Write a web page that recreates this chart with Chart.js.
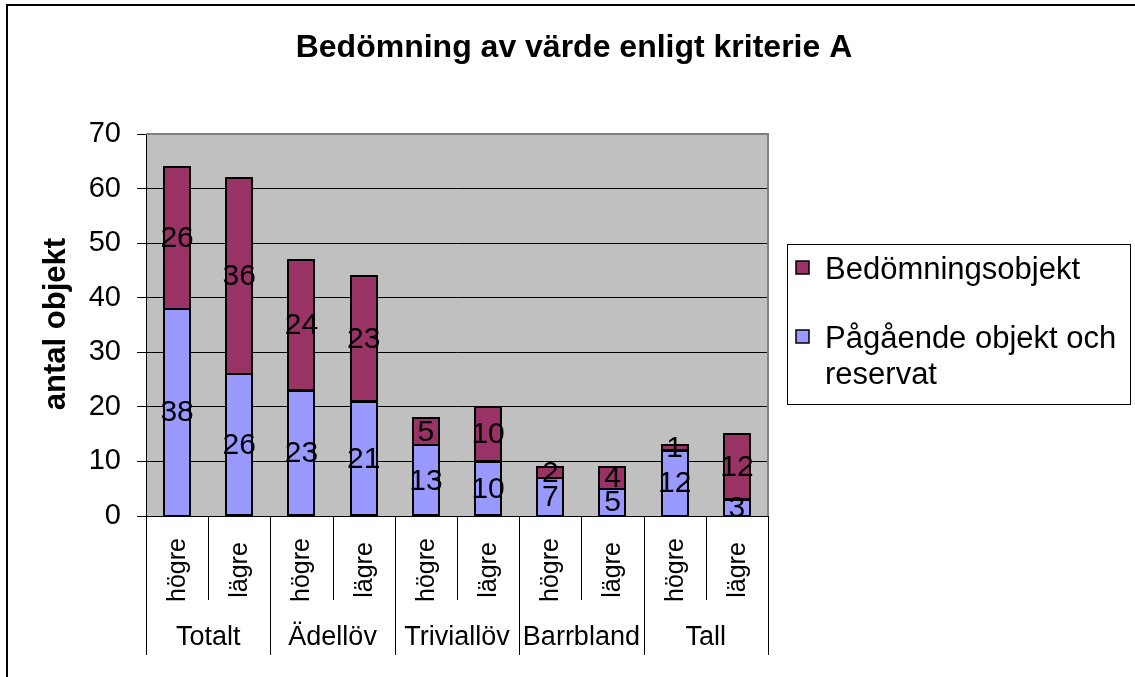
<!DOCTYPE html>
<html>
<head>
<meta charset="utf-8">
<script src="https://cdn.jsdelivr.net/npm/chart.js@4.4.1/dist/chart.umd.min.js"></script>
<style>
  html, body { margin: 0; padding: 0; background: #fff; }
  #wrap { width: 1135px; height: 677px; position: relative; }
</style>
</head>
<body>
<div id="wrap"><canvas id="chart" width="1135" height="677"></canvas></div>
<script>
const chartTitle = 'Bedömning av värde enligt kriterie A';
const yTitle = 'antal objekt';
const subLabels = ['högre', 'lägre', 'högre', 'lägre', 'högre', 'lägre', 'högre', 'lägre', 'högre', 'lägre'];
const groupLabels = ['Totalt', 'Ädellöv', 'Triviallöv', 'Barrbland', 'Tall'];
const pagaende = [38, 26, 23, 21, 13, 10, 7, 5, 12, 3];
const bedomning = [26, 36, 24, 23, 5, 10, 2, 4, 1, 12];
const seriesNames = ['Pågående objekt och reservat', 'Bedömningsobjekt'];
const yMax = 70;
const yStep = 10;

const FONT = '"Liberation Sans", Arial, sans-serif';

const excelLook = {
    id: 'excelLook',
    beforeDraw(chart) {
        const ctx = chart.ctx;
        const a = chart.chartArea;
        ctx.save();
        ctx.fillStyle = '#fff';
        ctx.fillRect(0, 0, chart.width, chart.height);
        // outer frame
        ctx.strokeStyle = '#000';
        ctx.lineWidth = 2;
        ctx.beginPath();
        ctx.moveTo(7, chart.height + 2);
        ctx.lineTo(7, 5);
        ctx.lineTo(chart.width + 2, 5);
        ctx.stroke();
        // plot background
        ctx.fillStyle = '#C0C0C0';
        ctx.fillRect(a.left, a.top, a.right - a.left, a.bottom - a.top);
        ctx.restore();
    },
    afterDatasetsDraw(chart) {
        const ctx = chart.ctx;
        const a = chart.chartArea;
        ctx.save();
        // plot border top / right
        ctx.strokeStyle = '#808080';
        ctx.lineWidth = 2;
        ctx.beginPath();
        ctx.moveTo(a.left, a.top);
        ctx.lineTo(a.right, a.top);
        ctx.lineTo(a.right, a.bottom);
        ctx.stroke();

        // bar outlines, centred on the segment edges like Excel
        ctx.strokeStyle = '#000';
        ctx.lineWidth = 2;
        chart.data.datasets.forEach((ds, di) => {
            chart.getDatasetMeta(di).data.forEach(bar => {
                const w = bar.width;
                ctx.strokeRect(Math.round(bar.x - w / 2), Math.round(bar.y), Math.round(w), Math.round(bar.base - bar.y));
            });
        });

        // value labels
        ctx.fillStyle = '#000';
        ctx.font = '30px ' + FONT;
        ctx.textAlign = 'center';
        ctx.textBaseline = 'middle';
        chart.data.datasets.forEach((ds, di) => {
            chart.getDatasetMeta(di).data.forEach((bar, i) => {
                const v = ds.data[i];
                ctx.fillText(String(v), bar.x, (bar.y + bar.base) / 2 + 1);
            });
        });

        // category axis: separators and labels
        const xs = chart.scales.x;
        const n = subLabels.length;
        const step = (a.right - a.left) / n;
        ctx.lineWidth = 1;
        for (let k = 0; k <= n; k++) {
            const x = Math.round(a.left + k * step) + 0.5;
            ctx.beginPath();
            ctx.moveTo(x, a.bottom);
            ctx.lineTo(x, k % 2 === 0 ? 655 : 600);
            ctx.stroke();
        }
        ctx.font = '25px ' + FONT;
        subLabels.forEach((lab, i) => {
            const cx = xs.getPixelForValue(i);
            ctx.save();
            ctx.translate(cx + 1, 570);
            ctx.rotate(-Math.PI / 2);
            ctx.textAlign = 'center';
            ctx.textBaseline = 'middle';
            ctx.fillText(lab, 0, 0);
            ctx.restore();
        });
        ctx.font = '27px ' + FONT;
        groupLabels.forEach((g, j) => {
            const cx = (xs.getPixelForValue(2 * j) + xs.getPixelForValue(2 * j + 1)) / 2;
            ctx.fillText(g, cx, 638);
        });

        // title
        ctx.font = 'bold 32px ' + FONT;
        ctx.fillText(chartTitle, 574, 48);

        // y axis title
        ctx.save();
        ctx.translate(56, 324);
        ctx.rotate(-Math.PI / 2);
        ctx.font = 'bold 31px ' + FONT;
        ctx.fillText(yTitle, 0, 0);
        ctx.restore();

        // legend
        ctx.strokeStyle = '#000';
        ctx.lineWidth = 1;
        ctx.strokeRect(787.5, 244.5, 343, 160);
        ctx.font = '31px ' + FONT;
        ctx.textAlign = 'left';
        const items = chart.data.datasets.slice().reverse();
        const rowY = [267, 336];
        items.forEach((ds, r) => {
            const y = rowY[r];
            ctx.fillStyle = ds.backgroundColor;
            ctx.fillRect(796, y - 6, 13, 13);
            ctx.lineWidth = 1.5;
            ctx.strokeRect(796, y - 6, 13, 13);
            ctx.fillStyle = '#000';
            // wrap text
            const words = ds.label.split(' ');
            const lines = [];
            let cur = '';
            words.forEach(w => {
                const t = cur ? cur + ' ' + w : w;
                if (ctx.measureText(t).width > 300 && cur) {
                    lines.push(cur);
                    cur = w;
                } else {
                    cur = t;
                }
            });
            lines.push(cur);
            lines.forEach((ln, li) => ctx.fillText(ln, 825, y + 3 + li * 36));
        });
        ctx.restore();
    }
};

new Chart(document.getElementById('chart'), {
    type: 'bar',
    data: {
        labels: subLabels,
        datasets: [{
            label: seriesNames[0],
            data: pagaende,
            backgroundColor: '#9999FF',
            borderWidth: 0
        }, {
            label: seriesNames[1],
            data: bedomning,
            backgroundColor: '#993366',
            borderWidth: 0
        }]
    },
    options: {
        responsive: false,
        animation: false,
        layout: {
            padding: { top: 134, right: 367, bottom: 0, left: 0 }
        },
        plugins: {
            legend: { display: false },
            title: { display: false },
            tooltip: { enabled: false }
        },
        datasets: {
            bar: { categoryPercentage: 1, barPercentage: 0.42 }
        },
        scales: {
            x: {
                stacked: true,
                grid: { display: false },
                border: { display: true, color: '#000', width: 1 },
                ticks: { display: false },
                afterFit: s => { s.height = 161; }
            },
            y: {
                stacked: true,
                min: 0,
                max: yMax,
                grid: { color: '#000', lineWidth: 1, tickLength: 9, drawTicks: true },
                border: { display: true, color: '#000', width: 1 },
                ticks: {
                    stepSize: yStep,
                    color: '#000',
                    padding: 16,
                    font: { size: 29, family: FONT }
                },
                afterFit: s => { s.width = 146; }
            }
        }
    },
    plugins: [excelLook]
});
</script>
</body>
</html>
